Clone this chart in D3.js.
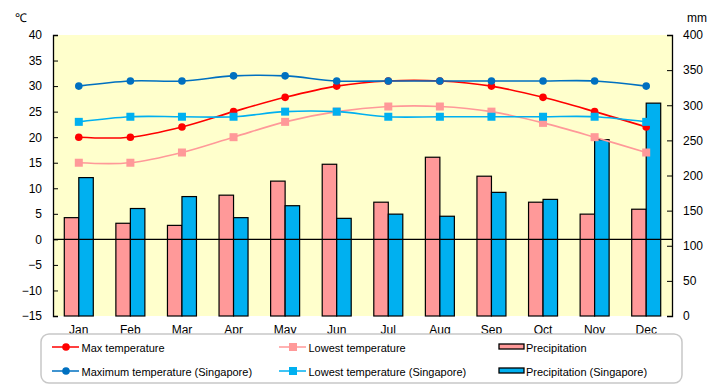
<!DOCTYPE html>
<html><head><meta charset="utf-8">
<script src="https://cdn.jsdelivr.net/npm/d3@7"></script>
<style>body{margin:0;background:#fff}svg{display:block;font-family:"Liberation Sans",Arial,sans-serif}</style>
</head><body>
<svg id="c" width="720" height="385"></svg>
<script>
const months = ["Jan","Feb","Mar","Apr","May","Jun","Jul","Aug","Sep","Oct","Nov","Dec"];
const maxTemp = [20,20,22,25,27.8,30,31,31,30,27.8,25,22];
const lowTemp = [15,15,17,20,23,25,26,26,25,22.8,20,17];
const maxTempSG = [30,31,31,32,32,31,31,31,31,31,31,30];
const lowTempSG = [23,24,24,24,25,25,24,24,24,24,24,23];
const precip = [140,132,129,172,192,216,162,226,199,162,145,152];
const precipSG = [197,153,170,140,157,139,145,142,176,166,251,303];
const tempTicks = [40,35,30,25,20,15,10,5,0,-5,-10,-15];
const precipTicks = [400,350,300,250,200,150,100,50,0];

const svg = d3.select("#c");
const L = 53, R = 672, T = 35, B = 316;
const x = d3.scaleBand().domain(months).range([L, R]);
const yT = d3.scaleLinear().domain([-15, 40]).range([B, T]);
const yP = d3.scaleLinear().domain([0, 400]).range([B, T]);
const bw = 14.5;

svg.append("rect").attr("x", L).attr("y", T).attr("width", R - L).attr("height", B - T).attr("fill", "#FFFFCC");

// bars
const g = svg.append("g");
months.forEach((m, i) => {
  const c = x(m) + x.bandwidth() / 2;
  g.append("rect").attr("x", c - bw).attr("y", yP(precip[i])).attr("width", bw).attr("height", yP(0) - yP(precip[i]))
    .attr("fill", "#FF9999").attr("stroke", "#000").attr("stroke-width", 1.2);
  g.append("rect").attr("x", c).attr("y", yP(precipSG[i])).attr("width", bw).attr("height", yP(0) - yP(precipSG[i]))
    .attr("fill", "#00B0F0").attr("stroke", "#000").attr("stroke-width", 1.2);
});

// zero line
svg.append("line").attr("x1", L).attr("x2", R).attr("y1", yT(0)).attr("y2", yT(0)).attr("stroke", "#000").attr("stroke-width", 1.2);

// axes
const axL = d3.axisLeft(yT).tickValues(tempTicks).tickSize(-5).tickPadding(11).tickFormat(d => d < 0 ? "\u2212" + Math.abs(d) : d);
const gl = svg.append("g").attr("transform", `translate(${L},0)`).call(axL);
const axR = d3.axisRight(yP).tickValues(precipTicks).tickSize(-5).tickPadding(11);
const gr = svg.append("g").attr("transform", `translate(${R},0)`).call(axR);
[gl, gr].forEach(a => {
  a.select(".domain").attr("stroke", "#000").attr("stroke-width", 1.3);
  a.selectAll(".tick line").attr("stroke", "#000");
  a.selectAll("text").attr("font-size", 12).attr("fill", "#000");
});
const axB = d3.axisBottom(x).tickSize(0).tickPadding(9);
const gb = svg.append("g").attr("transform", `translate(0,${B})`).call(axB);
gb.select(".domain").remove();
gb.selectAll("text").attr("font-size", 12).attr("fill", "#000");

svg.append("text").attr("x", 15).attr("y", 22).attr("font-size", 12).text("\u2103");
svg.append("text").attr("x", 687).attr("y", 22).attr("font-size", 12).text("mm");

// lines
const curve = d3.curveCatmullRom.alpha(0);
const series = [
  {data: maxTemp, color: "#FF0000", marker: "circle", label: "Max temperature"},
  {data: lowTemp, color: "#FF9999", marker: "square", label: "Lowest temperature"},
  {data: maxTempSG, color: "#0070C0", marker: "circle", label: "Maximum temperature (Singapore)"},
  {data: lowTempSG, color: "#00B0F0", marker: "square", label: "Lowest temperature (Singapore)"}
];
const cx = m => x(m) + x.bandwidth() / 2;
const line = d3.line().x((d, i) => cx(months[i])).y(d => yT(d)).curve(curve);
series.forEach(s => {
  svg.append("path").attr("d", line(s.data)).attr("fill", "none").attr("stroke", s.color).attr("stroke-width", 1.6);
});
function marker(sel, type, color, px, py) {
  if (type === "circle") sel.append("circle").attr("cx", px).attr("cy", py).attr("r", 3.8).attr("fill", color);
  else sel.append("rect").attr("x", px - 4).attr("y", py - 4).attr("width", 8).attr("height", 8).attr("fill", color);
}
series.forEach(s => {
  s.data.forEach((d, i) => marker(svg, s.marker, s.color, cx(months[i]), yT(d)));
});

// legend
svg.append("rect").attr("x", 41).attr("y", 334).attr("width", 641).attr("height", 49).attr("rx", 8)
  .attr("fill", "#fff").attr("stroke", "#C8C8C8").attr("stroke-width", 1.5);
const leg = [
  {s: series[0], x: 52, y: 347}, {s: series[2], x: 52, y: 371},
  {s: series[1], x: 279, y: 347}, {s: series[3], x: 279, y: 371}
];
leg.forEach(l => {
  svg.append("line").attr("x1", l.x).attr("x2", l.x + 27).attr("y1", l.y).attr("y2", l.y).attr("stroke", l.s.color).attr("stroke-width", 1.5);
  marker(svg, l.s.marker, l.s.color, l.x + 14, l.y);
  svg.append("text").attr("x", l.x + 29.5).attr("y", l.y + 4.5).attr("font-size", 11).text(l.s.label);
});
const barLeg = [{c: "#FF9999", t: "Precipitation", y: 347}, {c: "#00B0F0", t: "Precipitation (Singapore)", y: 371}];
barLeg.forEach(b => {
  svg.append("rect").attr("x", 499).attr("y", b.y - 3).attr("width", 25).attr("height", 5).attr("fill", b.c).attr("stroke", "#000").attr("stroke-width", 1.3);
  svg.append("text").attr("x", 526).attr("y", b.y + 4.5).attr("font-size", 11).text(b.t);
});
</script>
</body></html>
